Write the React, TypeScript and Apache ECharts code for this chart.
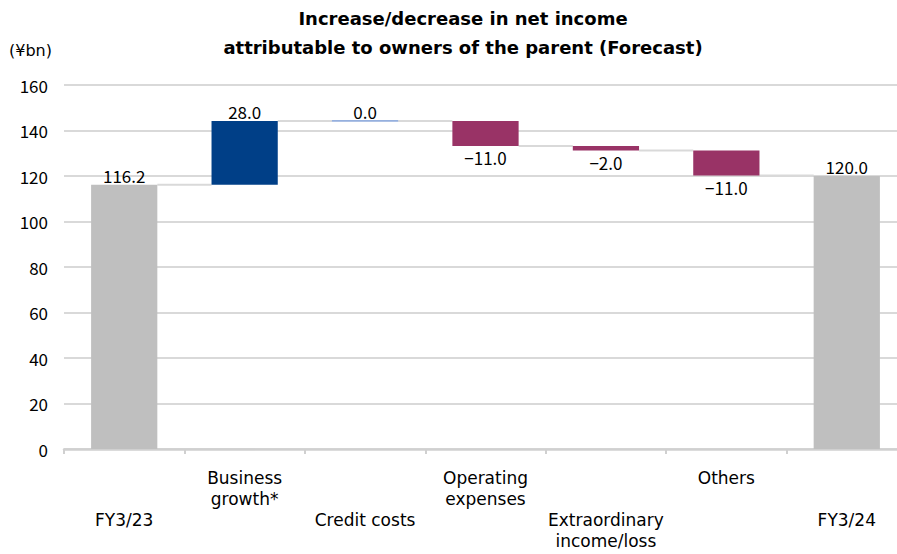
import React, { useEffect, useRef } from "react";
import * as echarts from "echarts";

const categories = [
  "FY3/23",
  "Business\ngrowth*",
  "Credit costs",
  "Operating\nexpenses",
  "Extraordinary\nincome/loss",
  "Others",
  "FY3/24",
];
const values = [116.2, 28.0, 0.0, -11.0, -2.0, -11.0, 120.0];
// 0 = total bar, 1 = change bar
const kinds = [0, 1, 1, 1, 1, 1, 0];
const yTicks = { min: 0, max: 160, interval: 20 };
const titleLines = ["Increase/decrease in net income", "attributable to owners of the parent (Forecast)"];
const unitLabel = "(¥bn)";

const FONT = "'Noto Sans CJK JP', 'Noto Sans', sans-serif";
const LFONT = "'DejaVu Sans', sans-serif";

function buildData() {
  let running = 0;
  return values.map((v, i) => {
    let low: number, high: number;
    if (kinds[i] === 0) {
      low = 0;
      high = v;
      running = v;
    } else {
      const next = running + v;
      low = Math.min(running, next);
      high = Math.max(running, next);
      running = next;
    }
    return [i, low, high, v, running, kinds[i]];
  });
}

function fmt(v: number) {
  const s = Math.abs(v).toFixed(1);
  return v < 0 ? "\u2212" + s : s;
}

const textEl = (text: string, x: number, y: number, font: string, align: string) => ({
  type: "text",
  x,
  y,
  style: {
    text,
    font,
    fill: "#000",
    textAlign: align,
    textVerticalAlign: "middle",
    align,
    verticalAlign: "middle",
  },
});

export default function App() {
  const ref = useRef<HTMLDivElement>(null);
  useEffect(() => {
    if (!ref.current) return;
    const chart = echarts.init(ref.current, null, { renderer: "svg" });
    const data = buildData();
    const labelBase = {
      interval: 0,
      hideOverlap: false,
      fontSize: 17,
      lineHeight: 21,
      color: "#000",
      fontFamily: LFONT,
    };
    chart.setOption({
      animation: false,
      textStyle: { fontFamily: FONT },
      grid: { left: 64, right: 0, top: 85, bottom: 105, containLabel: false },
      graphic: [
        textEl(titleLines[0], 463, 18, `bold 18px ${LFONT}`, "center"),
        textEl(titleLines[1], 463, 47, `bold 18px ${LFONT}`, "center"),
        textEl(unitLabel, 9, 50, `16px ${LFONT}`, "left"),
      ],
      xAxis: [
        {
          type: "category",
          data: categories,
          axisLine: { show: true, lineStyle: { color: "#d0d0d0", width: 2.5 } },
          axisTick: { show: true, length: 5, lineStyle: { color: "#d0d0d0", width: 2 } },
          axisLabel: {
            ...labelBase,
            margin: 18,
            formatter: (value: string, index: number) => (index % 2 === 1 ? value : ""),
          },
          splitLine: { show: false },
        },
        {
          type: "category",
          position: "bottom",
          data: categories,
          axisLine: { show: false },
          axisTick: { show: false },
          axisLabel: {
            ...labelBase,
            margin: 60,
            formatter: (value: string, index: number) => (index % 2 === 0 ? value : ""),
          },
          splitLine: { show: false },
        },
      ],
      yAxis: {
        type: "value",
        min: yTicks.min,
        max: yTicks.max,
        interval: yTicks.interval,
        axisLine: { show: false },
        axisTick: { show: false },
        axisLabel: { fontSize: 17, color: "#000", margin: 16, fontFamily: FONT },
        splitLine: { lineStyle: { color: "#d9d9d9", width: 2 } },
      },
      series: [
        {
          type: "custom",
          xAxisIndex: 0,
          encode: { x: 0, y: [1, 2] },
          data,
          renderItem: (params: any, api: any) => {
            const i = api.value(0);
            const low = api.value(1);
            const high = api.value(2);
            const v = api.value(3);
            const end = api.value(4);
            const kind = api.value(5);
            const catW = api.size([1, 0])[0];
            const bw = catW * 0.55;
            const pLow = api.coord([i, low]);
            const pHigh = api.coord([i, high]);
            const x = pLow[0] - bw / 2;
            const color = kind === 0 ? "#bfbfbf" : v > 0 ? "#003f87" : "#993366";
            const children: any[] = [];
            if (i < values.length - 1) {
              const pEnd = api.coord([i, end]);
              children.push({
                type: "line",
                shape: { x1: x + bw, y1: pEnd[1], x2: x + catW, y2: pEnd[1] },
                style: { stroke: "#d9d9d9", lineWidth: 2 },
              });
            }
            if (high > low) {
              children.push({
                type: "rect",
                shape: { x, y: pHigh[1], width: bw, height: pLow[1] - pHigh[1] },
                style: { fill: color },
              });
            } else {
              children.push({
                type: "line",
                shape: { x1: x, y1: pHigh[1], x2: x + bw, y2: pHigh[1] },
                style: { stroke: "#4472c4", lineWidth: 1 },
              });
            }
            const neg = v < 0;
            children.push({
              type: "text",
              x: pLow[0],
              y: neg ? pLow[1] + 3 : pHigh[1] - 1,
              style: {
                text: fmt(v),
                font: `17px ${FONT}`,
                fill: "#000",
                textAlign: "center",
                align: "center",
                textVerticalAlign: neg ? "top" : "bottom",
                verticalAlign: neg ? "top" : "bottom",
              },
            });
            return { type: "group", children };
          },
        },
      ],
    });
    return () => chart.dispose();
  }, []);
  return (
    <div
      style={{
        position: "fixed",
        left: 0,
        top: 0,
        width: 897,
        height: 554,
        overflow: "hidden",
        background: "#fff",
      }}
    >
      <div ref={ref} style={{ width: 907, height: 554 }} />
    </div>
  );
}
